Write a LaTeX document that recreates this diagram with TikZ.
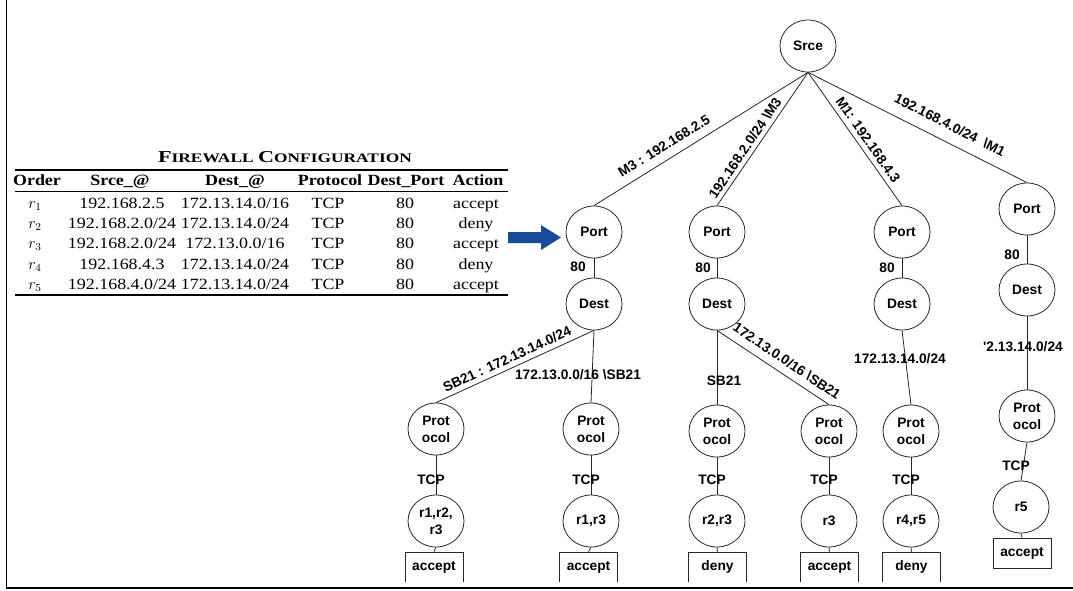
\documentclass[tikz,border=0pt]{standalone}
\usepackage{fontspec}
\setmainfont{Liberation Serif}
\newfontfamily\tabfont[FakeStretch=1.15]{Liberation Serif}
\newfontfamily\titfont[FakeStretch=1.33]{Liberation Serif}
\newfontfamily\treefont{Liberation Sans}
\usetikzlibrary{shapes.geometric}
\definecolor{arrowblue}{RGB}{25,75,155}
\begin{document}
\begin{tikzpicture}[x=0.75pt,y=-0.75pt,
  tnode/.style={draw=black!85, line width=0.6pt, ellipse, minimum width=42pt, minimum height=39pt, inner sep=0pt,
    font=\treefont\bfseries\fontsize{10.3}{13}\selectfont, align=center},
  elab/.style={font=\treefont\bfseries\fontsize{10.3}{12}\selectfont, inner sep=0pt},
  actbox/.style={draw=black!85, line width=0.6pt, minimum width=43.5pt, minimum height=22.5pt, inner sep=0pt,
    font=\treefont\bfseries\fontsize{10.3}{12}\selectfont},
  conn/.style={draw=black!85, line width=0.6pt},
  cell/.style={anchor=base, inner sep=0pt, font=\tabfont\fontsize{11.7}{13}\selectfont},
  hcell/.style={anchor=base, inner sep=0pt, font=\tabfont\bfseries\fontsize{11.7}{13}\selectfont},
  trule/.style={line width=0.9pt},
  mrule/.style={line width=0.5pt}
]
\useasboundingbox (0,0) rectangle (1073,590);
% frame
\draw[line width=1.1pt] (6.5,0) -- (6.5,588) -- (1073,588);

% ---------- table ----------
\node[anchor=base, inner sep=0pt, font=\titfont\bfseries] (title) at (285,162)
  {{\fontsize{12.5}{14}\selectfont F}{\fontsize{9.8}{12}\selectfont IREWALL} {\fontsize{12.5}{14}\selectfont C}{\fontsize{9.8}{12}\selectfont ONFIGURATION}};
\draw[trule] (15,170) -- (508,170);
\draw[mrule] (15,191) -- (508,191);
\draw[trule] (15,295) -- (508,295);
\node[hcell] (h1) at (37,185) {Order};
\node[hcell] (h2) at (120,185) {Srce\_@};
\node[hcell] (h3) at (235,185) {Dest\_@};
\node[hcell] (h4) at (330,185) {Protocol};
\node[hcell] (h5) at (406,185) {Dest\_Port};
\node[hcell] (h6) at (478,185) {Action};
% rows
\foreach \y/\o/\s/\d/\a [count=\i] in {
  208/1/192.168.2.5/172.13.14.0\slash16/accept,
  228/2/192.168.2.0\slash24/172.13.14.0\slash24/deny,
  248/3/192.168.2.0\slash24/172.13.0.0\slash16/accept,
  269/4/192.168.4.3/172.13.14.0\slash24/deny,
  289/5/192.168.4.0\slash24/172.13.14.0\slash24/accept}{
  \node[cell] (c\i a) at (35,\y) {$r_{\o}$};
  \node[cell] (c\i b) at (122,\y) {\s};
  \node[cell] (c\i c) at (235,\y) {\d};
  \node[cell] (c\i d) at (328,\y) {TCP};
  \node[cell] (c\i e) at (405,\y) {80};
  \node[cell] (c\i f) at (476,\y) {\a};
}
% block arrow
\fill[arrowblue] (508,232) -- (541,232) -- (541,225) -- (561,237.5) -- (541,250) -- (541,243) -- (508,243) -- cycle;

% ---------- tree ----------
\node[tnode] (srce) at (808,46) {Srce};
\node[tnode] (p1) at (594,232) {Port};
\node[tnode] (p2) at (717,232) {Port};
\node[tnode] (p3) at (902,232) {Port};
\node[tnode] (p4) at (1027,209) {Port};
\node[tnode] (d1) at (594,304) {Dest};
\node[tnode] (d2) at (717,304) {Dest};
\node[tnode] (d3) at (902,304) {Dest};
\node[tnode] (d4) at (1027,290) {Dest};
\node[tnode] (pr1) at (436,429) {Prot\\ocol};
\node[tnode] (pr2) at (591,429) {Prot\\ocol};
\node[tnode] (pr3) at (717,431) {Prot\\ocol};
\node[tnode] (pr4) at (829,431) {Prot\\ocol};
\node[tnode] (pr5) at (911,431) {Prot\\ocol};
\node[tnode] (pr6) at (1027,416) {Prot\\ocol};
\node[tnode] (q1) at (436,521) {r1,r2,\\r3};
\node[tnode] (q2) at (591,521) {r1,r3};
\node[tnode] (q3) at (717,521) {r2,r3};
\node[tnode] (q4) at (829,521) {r3};
\node[tnode] (q5) at (911,521) {r4,r5};
\node[tnode] (q6) at (1021,507) {r5};
\begin{scope}
\clip (0,0) rectangle (1073,581);
\node[actbox] (a1) at (434,567) {accept};
\node[actbox] (a2) at (588.5,567) {accept};
\node[actbox] (a3) at (717.5,567) {deny};
\node[actbox] (a4) at (829.5,567) {accept};
\node[actbox] (a5) at (911.5,567) {deny};
\end{scope}
\node[actbox] (a6) at (1022,553) {accept};

% edges from Srce
\draw[conn] (srce.south) -- (p1.north);
\draw[conn] (srce.south) -- (p2.north);
\draw[conn] (srce.south) -- (p3.north);
\draw[conn] (srce.south) -- (p4.north);
\node[elab, rotate=32] (l1) at (664,146) {M3 : 192.168.2.5};
\node[elab, rotate=56] (l2) at (745,148) {192.168.2.0/24 \textbackslash M3};
\node[elab, rotate=-55] (l3) at (868,140) {M1: 192.168.4.3};
\node[elab, rotate=-27] (l4) at (950,125) {192.168.4.0/24 \ \textbackslash M1};

% Port -> Dest
\foreach \i/\lx/\ly in {1/578/267, 2/703/268, 3/887/268, 4/1012/255}{
  \draw[conn] (p\i.south) -- (d\i.north);
  \node[elab] (e\i) at (\lx,\ly) {80};
}

% Dest -> Protocol
\draw[conn] (d1.south) -- (pr1.north);
\draw[conn] (d1.south) -- (pr2.north);
\draw[conn] (d2.south) -- (pr3.north);
\draw[conn] (d2.south) -- (pr4.north);
\draw[conn] (d3.south) -- (pr5.north);
\draw[conn] (d4.south) -- (pr6.north);
\node[elab, rotate=25] (m1) at (507,359) {SB21 : 172.13.14.0/24};
\node[elab] (m2) at (578,375) {172.13.0.0/16 \textbackslash SB21};
\node[elab] (m3) at (724,381) {SB21};
\node[elab, rotate=-34] (m4) at (787,361) {172.13.0.0/16 \textbackslash SB21};
\node[elab] (m5) at (900,359) {172.13.14.0/24};
\node[elab] (m6) at (1023,347) {'2.13.14.0/24};

% Protocol -> rules
\foreach \i/\lx/\ly in {1/431/480, 2/586/480, 3/712/480, 4/824/480, 5/906/480, 6/1016/466}{
  \draw[conn] (pr\i.south) -- (q\i.north);
  \node[elab] (t\i) at (\lx,\ly) {TCP};
}
% rules -> action
\foreach \i in {1,...,6}{
  \draw[conn] (q\i.south) -- (a\i.north);
}
\end{tikzpicture}
\end{document}
